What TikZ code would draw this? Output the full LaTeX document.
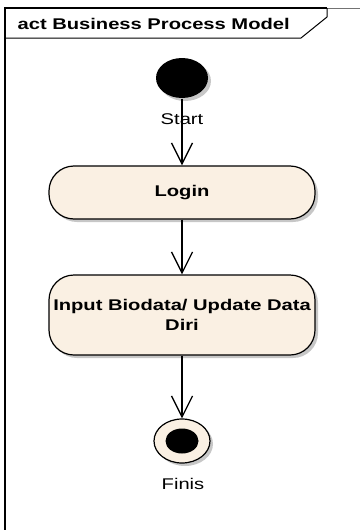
\documentclass[tikz,border=0pt]{standalone}
\usepackage{fontspec}
\setmainfont{Liberation Sans}[FakeStretch=1.3]
\usetikzlibrary{arrows.meta,shapes.geometric,shadows}
\definecolor{actfill}{RGB}{250,240,227}

\begin{document}
\begin{tikzpicture}[-,>={Straight Barb[length=21pt,width=21pt]},x=1pt,y=1pt,
                    line width=1.2pt]
  \tikzstyle{every node}=[font=\fontsize{15.5}{20}\selectfont,inner sep=0pt]
  \tikzstyle{softshadow}=[drop shadow={shadow xshift=3pt,shadow yshift=-3pt,fill=black!40,opacity=.55}]
  \tikzstyle{startnode}=[ellipse,fill=black,minimum width=52pt,minimum height=40pt,softshadow]
  \tikzstyle{action}=[rectangle,draw,fill=actfill,rounded corners=25pt,minimum width=266pt,
                      align=center,font=\fontsize{15.5}{20}\selectfont\bfseries,softshadow]
  \tikzstyle{finalnode}=[ellipse,draw,fill=actfill,minimum width=56pt,minimum height=44pt,softshadow]
  \tikzstyle{finalcore}=[ellipse,fill=black,minimum width=33pt,minimum height=25pt]
  \tikzstyle{flow}=[->,line width=1.3pt]

  \useasboundingbox (0,0) rectangle (360,-530);

  % frame
  \draw[line width=1.5pt] (5,-530) -- (5,-8) -- (327,-8);
  \draw[line width=1pt,black!55] (327,-8) -- (360,-8);
  \draw[line width=1pt] (327,-8) -- (327,-17) -- (301,-38) -- (5,-38);
  \node[anchor=base west,font=\fontsize{15.5}{20}\selectfont\bfseries] (title) at (17,-29) {act Business Process Model};

  \node[startnode]  (start) at (182,-78)                                    {};
  \node[action]     (login) [node distance=114.5pt,below of=start,minimum height=53pt] {Login};
  \node[action]     (input) [node distance=122.5pt,below of=login,minimum height=80pt] {Input Biodata/ Update Data\\Diri};
  \node[finalnode]  (fin)   [node distance=126pt,below of=input]            {};
  \node[finalcore]  (core)  at (fin)                                        {};
  \node[anchor=base] (startlabel) at (182,-124)                             {Start};
  \node[anchor=base] (finlabel)   at (183,-489)                             {Finis};

  \path (start) edge[flow] (login)
        (login) edge[flow] (input)
        (input) edge[flow] (fin);
\end{tikzpicture}
\end{document}
